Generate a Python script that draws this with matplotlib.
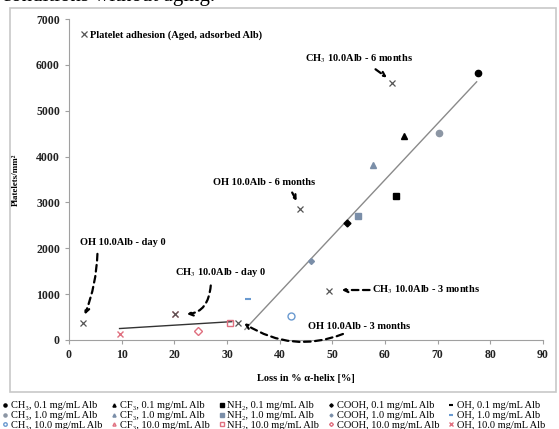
import matplotlib
matplotlib.use("Agg")
import matplotlib.pyplot as plt
from matplotlib.patches import Rectangle

plt.rcParams['font.family'] = ['Liberation Serif', 'DejaVu Serif']
plt.rcParams['mathtext.fontset'] = 'stix'

# aged samples (platelet adhesion, adsorbed Alb)
aged_x = [2.6, 20.1, 32.0, 43.9, 49.4, 61.4]
aged_y = [360, 560, 370, 2860, 1075, 5600]

# day 0 samples, by chemistry and Alb concentration
ch3_01_x, ch3_01_y = [77.6], [5820]
ch3_10_x, ch3_10_y = [70.3], [4510]
ch3_100_x, ch3_100_y = [42.1], [530]
cf3_01_x, cf3_01_y = [63.6], [4440]
cf3_10_x, cf3_10_y = [57.8], [3810]
cf3_100_x, cf3_100_y = [], []
nh2_01_x, nh2_01_y = [62.1], [3150]
nh2_10_x, nh2_10_y = [54.8], [2700]
nh2_100_x, nh2_100_y = [30.6], [360]
cooh_01_x, cooh_01_y = [52.7], [2550]
cooh_10_x, cooh_10_y = [45.9], [1730]
cooh_100_x, cooh_100_y = [24.5], [190]
oh_01_x, oh_01_y = [], []
oh_10_x, oh_10_y = [33.9], [890]
oh_100_x, oh_100_y = [9.7, 20.1], [140, 560]

# trend lines
low_x, low_y = [9.6, 30.9], [250, 400]
fit_x, fit_y = [33.4, 77.4], [230, 5630]

fig = plt.figure(figsize=(5.59, 4.29), dpi=100)
fig.text(0.003, 0.997, 'conditions without aging.', fontsize=15, va='baseline')
fig.patches.append(Rectangle((10/559, 1-392/429), 546/559, 384/429, transform=fig.transFigure,
                             fill=False, edgecolor='#c8c8c8', lw=1.2))

ax = fig.add_axes([69/559, 1-340/429, 474/559, 321/429])

ax.plot(low_x, low_y, color='#333333', lw=1)
ax.plot(fit_x, fit_y, color='#8a8a8a', lw=1)

blk = 'black'
gb = '#7a8ea8'
pink = '#e07080'
lb = '#6a9ad0'
hd = []
hd += ax.plot(ch3_01_x, ch3_01_y, 'o', ms=4.5, color=blk, label='CH₃, 0.1 mg/mL Alb')
hd += ax.plot(ch3_10_x, ch3_10_y, 'o', ms=4.5, color='#8c96a4', label='CH₃, 1.0 mg/mL Alb')
hd += ax.plot(ch3_100_x, ch3_100_y, 'o', ms=5, mfc='none', mec=lb, label='CH₃, 10.0 mg/mL Alb')
hd += ax.plot(cf3_01_x, cf3_01_y, '^', ms=4.5, color=blk, label='CF₃, 0.1 mg/mL Alb')
hd += ax.plot(cf3_10_x, cf3_10_y, '^', ms=4.5, color=gb, label='CF₃, 1.0 mg/mL Alb')
hd += ax.plot(cf3_100_x, cf3_100_y, '^', ms=4.5, mfc='none', mec=pink, label='CF₃, 10.0 mg/mL Alb')
hd += ax.plot(nh2_01_x, nh2_01_y, 's', ms=4.5, color=blk, label='NH₂, 0.1 mg/mL Alb')
hd += ax.plot(nh2_10_x, nh2_10_y, 's', ms=4.5, color=gb, label='NH₂, 1.0 mg/mL Alb')
hd += ax.plot(nh2_100_x, nh2_100_y, 's', ms=5, mfc='none', mec=pink, label='NH₂, 10.0 mg/mL Alb')
hd += ax.plot(cooh_01_x, cooh_01_y, 'D', ms=3.5, color=blk, label='COOH, 0.1 mg/mL Alb')
hd += ax.plot(cooh_10_x, cooh_10_y, 'D', ms=3, color=gb, label='COOH, 1.0 mg/mL Alb')
hd += ax.plot(cooh_100_x, cooh_100_y, 'D', ms=4, mfc='none', mec=pink, label='COOH, 10.0 mg/mL Alb')
hd += ax.plot(oh_01_x, oh_01_y, '_', ms=5, mew=1.5, color=blk, label='OH, 0.1 mg/mL Alb')
hd += ax.plot(oh_10_x, oh_10_y, '_', ms=5, mew=1.5, color=lb, label='OH, 1.0 mg/mL Alb')
hd += ax.plot(oh_100_x, oh_100_y, 'x', ms=5, mew=1, color=pink, label='OH, 10.0 mg/mL Alb')

aged = ax.plot(aged_x, aged_y, ls='none', marker='x', ms=4.5, mew=0.9, color='#555555',
               label='Platelet adhesion (Aged, adsorbed Alb)')
ax.legend(handles=aged, loc='upper left', bbox_to_anchor=(0.0, 1.0), frameon=False,
          handlelength=0.6, handletextpad=0.3, borderpad=0.6,
          prop={'weight': 'bold', 'size': 7.5})

ax.set_xlim(0, 90)
ax.set_ylim(0, 7000)
ax.set_xticks(range(0, 91, 10))
ax.set_yticks(range(0, 7001, 1000))
for s in ['top', 'right']:
    ax.spines[s].set_visible(False)
for s in ['left', 'bottom']:
    ax.spines[s].set_color('#a0a0a0')
ax.tick_params(colors='#a0a0a0', labelcolor='#222222', length=3, labelsize=8.5)
for lb_ in ax.get_xticklabels() + ax.get_yticklabels():
    lb_.set_fontweight('bold')
ax.set_xlabel('Loss in % α-helix [%]', fontsize=7.5, fontweight='bold', labelpad=9)
ax.set_ylabel('Platelets/mm²', fontsize=6.5, fontweight='bold', labelpad=12)

ann = dict(fontsize=7.5, fontweight='bold', ha='center', va='bottom')
arr = dict(arrowstyle='->', lw=1.6, color='black', linestyle=(0, (3, 2)), shrinkA=0, shrinkB=3)
ax.annotate('CH$_3$ 10.0Alb - 6 months', xy=(61.0, 5670), xytext=(55.0, 6000),
            arrowprops=dict(arr, shrinkA=2, relpos=(0.6, 0)), **ann)
ax.annotate('OH 10.0Alb - 6 months', xy=(43.6, 2950), xytext=(37.0, 3330),
            arrowprops=dict(arr, shrinkA=2, relpos=(0.75, 0)), **ann)
ax.annotate('OH 10.0Alb - day 0', xy=(2.7, 470), xytext=(10.3, 2030),
            arrowprops=dict(arr, connectionstyle='arc3,rad=-0.1', relpos=(0.2, 0), shrinkA=3), **ann)
ax.annotate('CH$_3$ 10.0Alb - day 0', xy=(21.6, 560), xytext=(28.7, 1340),
            arrowprops=dict(arr, connectionstyle='angle3,angleA=90,angleB=0',
                            relpos=(0.4, 0), shrinkA=3), **ann)
ax.annotate('CH$_3$ 10.0Alb - 3 months', xy=(51.0, 1090), xytext=(57.6, 1090),
            arrowprops=dict(arr), fontsize=7.5, fontweight='bold', ha='left', va='center')
ax.annotate('OH 10.0Alb - 3 months', xy=(32.6, 410), xytext=(45.3, 290),
            arrowprops=dict(arr, connectionstyle='arc3,rad=-0.3'),
            fontsize=7.5, fontweight='bold', ha='left', va='center')

fig.legend(handles=hd, ncol=5, loc='upper left', bbox_to_anchor=(-0.005, 1-396/429),
           frameon=False, fontsize=7.5, handlelength=0.5, handletextpad=0.3,
           columnspacing=0.9, labelspacing=0.05, markerscale=0.5, borderpad=0)

fig.savefig('out.png', dpi=100)
